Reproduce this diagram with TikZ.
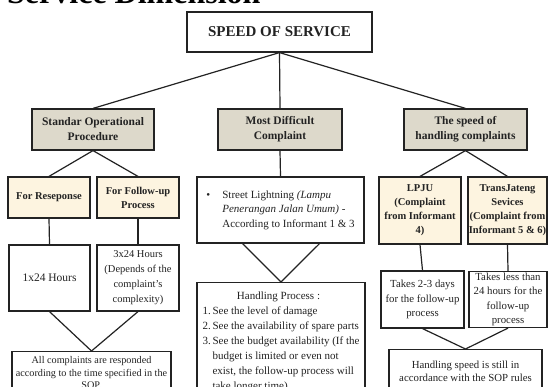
\documentclass[tikz,border=0pt]{standalone}
\usepackage{fontspec}
\setmainfont{Liberation Serif}
\usetikzlibrary{calc}
\definecolor{hdrfill}{RGB}{221,217,203}
\definecolor{subfill}{RGB}{253,244,224}
\definecolor{ink}{RGB}{35,35,35}

\begin{document}
\begin{tikzpicture}[x=1pt,y=-1pt,
  box/.style={draw=ink, line width=1.2pt, fill=white, text=ink,
    inner xsep=1pt, inner ysep=0pt, align=center},
  hdr/.style={box, fill=hdrfill, font=\fontsize{11.5}{15}\selectfont\bfseries},
  sub/.style={box, fill=subfill, font=\fontsize{10.5}{14}\selectfont\bfseries},
  txt/.style={box, font=\fontsize{11}{14.5}\selectfont},
  wh/.style n args={2}{minimum width=#1, minimum height=#2},
  link/.style={draw=ink, line width=1.2pt}]
\useasboundingbox (0,0) rectangle (548,387);
\clip (0,0) rectangle (548,387);
\fill[white] (0,0) rectangle (548,387);

% heading line, only its lower part falls on the page
\node[anchor=base west, inner sep=0, font=\fontsize{32}{36}\selectfont\bfseries]
  (title) at (7,4) {Service Dimension};

% root
\node[box, wh={185}{40}, font=\fontsize{15}{18}\selectfont\bfseries]
  (root) at (279.5,32) {SPEED OF SERVICE};

% second level
\node[hdr, wh={122}{41}] (sop) at (93,129.5)
  {Standar Operational\\Procedure};
\node[hdr, wh={124}{41}] (mdc) at (280,129.5)
  {Most Difficult\\Complaint};
\node[hdr, wh={123}{41}] (soh) at (465.5,129.5)
  {The speed of\\handling complaints};

% SOP branch
\node[sub, wh={82}{41}] (resp) at (49,197.5) {For Reseponse};
\node[sub, wh={82}{41}] (fup) at (138,197.5) {For Follow-up\\Process};
\node[txt, wh={81}{66}, font=\fontsize{11.5}{14.5}\selectfont]
  (h1) at (49.5,278) {1x24 Hours};
\node[txt, wh={82}{66}, font=\fontsize{10.5}{15}\selectfont]
  (h3) at (138,278) {3x24 Hours\\(Depends of the\\complaint’s\\complexity)};
\node[txt, anchor=north, minimum width=159, inner ysep=5pt,
  font=\fontsize{10.2}{12.5}\selectfont]
  (allc) at (91.5,351)
  {All complaints are responded\\according to the time specified in the\\SOP.\\[4pt]};

% most difficult complaint branch
\node[txt, wh={167}{66}, align=left] (street) at (280.5,210)
  {\makebox[16pt][l]{\textbullet}Street Lightning \textit{(Lampu}\\
   \hspace*{16pt}\textit{Penerangan Jalan Umum)} -\\
   \hspace*{16pt}According to Informant 1 \& 3};
\node[txt, anchor=north, minimum width=168, inner ysep=9pt, align=left,
  font=\fontsize{11}{15}\selectfont]
  (handl) at (281,282)
  {\makebox[152pt][c]{Handling Process :}\\
   \makebox[10pt][l]{1.}See the level of damage\\
   \makebox[10pt][l]{2.}See the availability of spare parts\\
   \makebox[10pt][l]{3.}See the budget availability (If the\\
   \hspace*{10pt}budget is limited or even not\\
   \hspace*{10pt}exist, the follow-up process will\\
   \hspace*{10pt}take longer time).};

% handling speed branch
\node[sub, wh={82}{67}] (lpju) at (420,210.5)
  {LPJU\\(Complaint\\from Informant\\4)};
\node[sub, wh={79}{67}, inner xsep=0pt] (trans) at (507.5,210.5)
  {TransJateng\\Sevices\\(Complaint from\\Informant 5 \& 6)};
\node[txt, wh={83}{57}, font=\fontsize{10.8}{14.5}\selectfont]
  (t23) at (422.5,299.5) {Takes 2-3 days\\for the follow-up\\process};
\node[txt, wh={78}{56}, font=\fontsize{10.8}{14.5}\selectfont]
  (tless) at (508,299.5) {Takes less than\\24 hours for the\\follow-up\\process};
\node[txt, anchor=north, minimum width=153, inner ysep=11pt,
  font=\fontsize{10.8}{13}\selectfont]
  (hspeed) at (465.5,349)
  {Handling speed is still in\\accordance with the SOP rules};

% connectors
\draw[link] (root.south) -- (sop.north);
\draw[link] (root.south) -- (mdc.north);
\draw[link] (root.south) -- (soh.north);

\draw[link] (sop.south) -- (resp.north);
\draw[link] (sop.south) -- (fup.north);
\draw[link] (resp.south) -- (h1.north);
\draw[link] (fup.south) -- (h3.north);
\draw[link] (h1.south) -- (allc.north);
\draw[link] (h3.south) -- (allc.north);

\draw[link] (mdc.south) -- (street.north);
\coordinate (stl) at ($(street.south)+(-38,0)$);
\coordinate (str) at ($(street.south)+(39,0)$);
\draw[link] (stl) -- (handl.north) -- (str);

\draw[link] (soh.south) -- (lpju.north);
\draw[link] (soh.south) -- (trans.north);
\draw[link] (lpju.south) -- (t23.north);
\draw[link] (trans.south) -- (tless.north);
\draw[link] (t23.south) -- (hspeed.north);
\draw[link] (tless.south) -- (hspeed.north);
\end{tikzpicture}
\end{document}
